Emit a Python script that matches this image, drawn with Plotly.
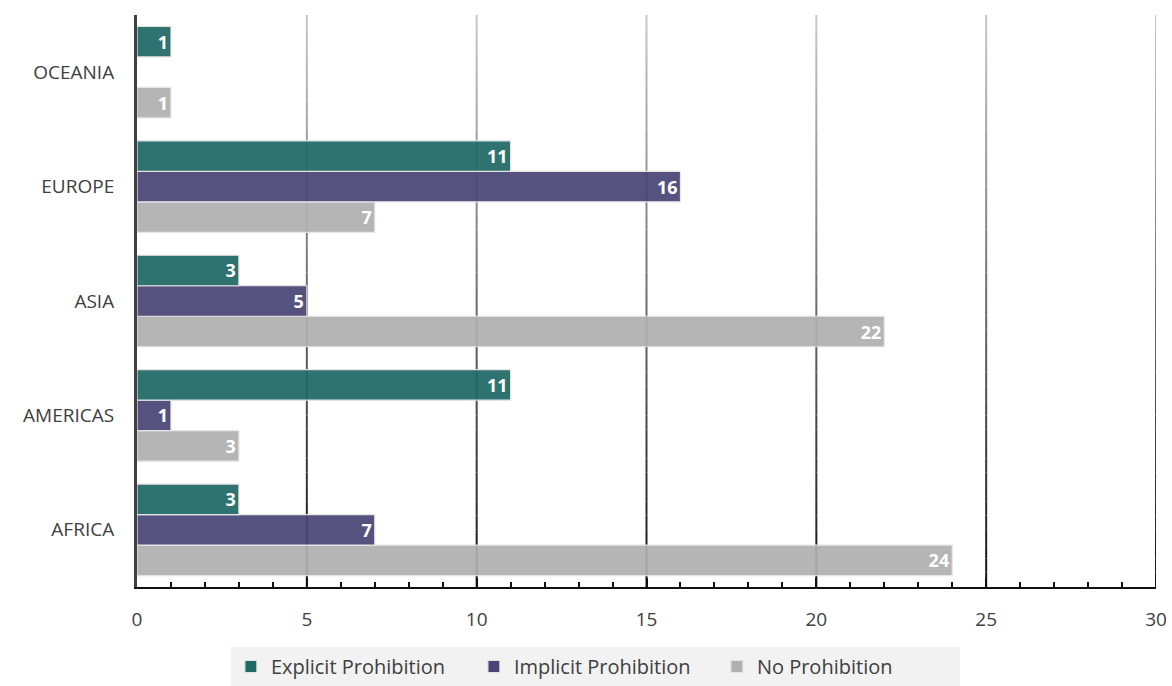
import plotly.graph_objects as go

# Regions, bottom to top on the category axis
regions = ["AFRICA", "AMERICAS", "ASIA", "EUROPE", "OCEANIA"]

explicit_prohibition = [3, 11, 3, 11, 1]
implicit_prohibition = [7, 1, 5, 16, None]
no_prohibition = [24, 3, 22, 7, 1]

x_ticks = [0, 5, 10, 15, 20, 25, 30]

series = [
    ("No Prohibition", no_prohibition, "#B0B0B0"),
    ("Implicit Prohibition", implicit_prohibition, "#4A4576"),
    ("Explicit Prohibition", explicit_prohibition, "#206966"),
]

FONT = "Open Sans"
TEXT_GREY = "#404040"

fig = go.Figure()
for name, vals, color in series:
    fig.add_trace(go.Bar(
        y=regions,
        x=vals,
        name=name,
        orientation="h",
        marker=dict(color=color, opacity=0.93,
                    line=dict(color="#E4E4E4", width=1.2)),
        text=[("" if v is None else str(v)) for v in vals],
        textposition="inside",
        insidetextanchor="end",
        textangle=0,
        constraintext="none",
        textfont=dict(family=FONT, size=18, color="white", weight="bold"),
        hoverinfo="x+name",
    ))


def mix(c1, c2, t):
    a = [int(c1[i:i + 2], 16) for i in (1, 3, 5)]
    b = [int(c2[i:i + 2], 16) for i in (1, 3, 5)]
    return "#" + "".join(f"{round(p + (q - p) * t):02x}" for p, q in zip(a, b))


# Vertical gridlines shaded from light grey at the top to near black at the bottom
shapes = []
steps = 40
for xv in x_ticks[1:]:
    for k in range(steps):
        y_top = 1 - k / steps
        y_bot = 1 - (k + 1) / steps
        shapes.append(dict(
            type="line", xref="x", yref="paper",
            x0=xv, x1=xv, y0=y_bot, y1=y_top,
            line=dict(color=mix("#C8C8C8", "#111111", (k + 0.5) / steps), width=2),
            layer="below",
        ))

fig.update_layout(
    width=1172,
    height=686,
    paper_bgcolor="white",
    plot_bgcolor="white",
    barmode="group",
    bargap=0.2,
    bargroupgap=0.0,
    margin=dict(l=137, r=16, t=15, b=99),
    font=dict(family=FONT, color=TEXT_GREY, size=19),
    shapes=shapes,
    showlegend=True,
    legend=dict(
        orientation="h",
        traceorder="reversed",
        xref="container", yref="container",
        x=0.508, xanchor="center",
        y=0.0, yanchor="bottom",
        bgcolor="#F2F2F2",
        font=dict(family=FONT, size=20, color=TEXT_GREY),
        itemwidth=30,
        entrywidth=198,
        tracegroupgap=0,
    ),
    uniformtext=dict(minsize=18, mode="show"),
)

fig.update_xaxes(
    range=[0, 30],
    tickvals=x_ticks,
    automargin=False,
    showgrid=False,
    zeroline=False,
    showline=True,
    linecolor="#111111",
    linewidth=2,
    ticks="inside",
    ticklen=9,
    tickwidth=2,
    tickcolor="#111111",
    ticklabelstandoff=14,
    minor=dict(dtick=1, ticks="inside", ticklen=5, tickwidth=1.5, tickcolor="#111111"),
    tickfont=dict(family=FONT, size=19, color=TEXT_GREY),
    fixedrange=True,
)

fig.update_yaxes(
    categoryorder="array",
    categoryarray=regions,
    automargin=False,
    showgrid=False,
    zeroline=False,
    showline=True,
    linecolor="#404040",
    linewidth=3,
    ticks="",
    ticklabelstandoff=16,
    tickfont=dict(family=FONT, size=19, color=TEXT_GREY),
    fixedrange=True,
)

fig.write_html("out.html")
